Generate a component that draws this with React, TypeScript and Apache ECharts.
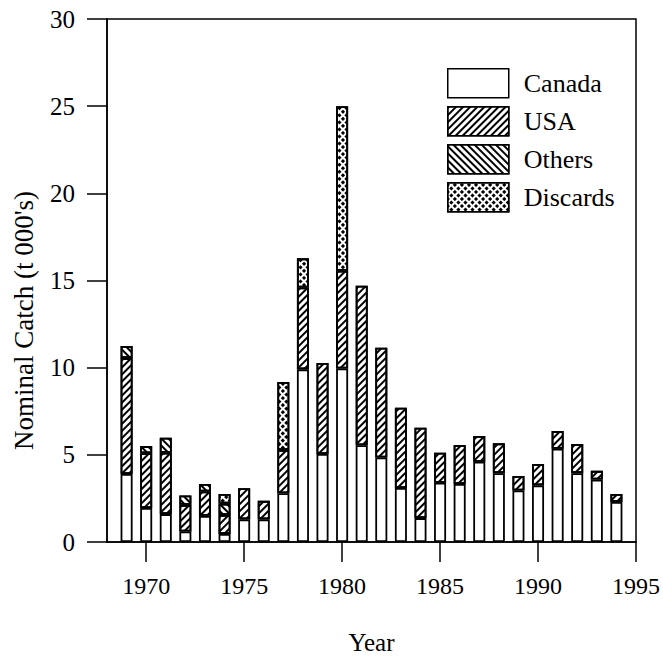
import React, { useEffect, useRef } from "react";
import * as echarts from "echarts";

// Years on the category axis (axis runs edge to edge from 1968 to 1995)
const axisYears: string[] = [];
for (let y = 1968; y <= 1995; y++) axisYears.push(String(y));

// Nominal catch by year, 1969–1994 (thousand tonnes)
const dataYears = [
  1969, 1970, 1971, 1972, 1973, 1974, 1975, 1976, 1977, 1978, 1979, 1980, 1981,
  1982, 1983, 1984, 1985, 1986, 1987, 1988, 1989, 1990, 1991, 1992, 1993, 1994,
];
const canada = [
  3.9, 1.95, 1.6, 0.6, 1.5, 0.46, 1.3, 1.3, 2.8, 9.9, 5.05, 9.95, 5.55, 4.85,
  3.1, 1.37, 3.4, 3.33, 4.6, 3.95, 2.95, 3.25, 5.35, 3.95, 3.58, 2.3,
];
const usa = [
  6.65, 3.14, 3.52, 1.53, 1.4, 1.09, 1.78, 1.06, 2.48, 4.7, 5.22, 5.61, 9.15,
  6.29, 4.6, 5.19, 1.72, 2.23, 1.48, 1.71, 0.84, 1.23, 1.01, 1.67, 0.5, 0.46,
];
const others = [
  0.7, 0.41, 0.86, 0.54, 0.43, 0.65, 0, 0, 0, 0, 0, 0, 0, 0, 0, 0, 0, 0, 0, 0,
  0, 0, 0, 0, 0, 0,
];
const discards = [
  0, 0, 0, 0, 0, 0.56, 0, 0, 3.9, 1.67, 0, 9.44, 0, 0, 0, 0, 0, 0, 0, 0, 0, 0,
  0, 0, 0, 0,
];

const yTicks = [0, 5, 10, 15, 20, 25, 30];
const xLabelYears = [1970, 1975, 1980, 1985, 1990, 1995];

const FONT = "'Liberation Serif', 'DejaVu Serif', serif";

function alignToAxis(values: number[]): (number | null)[] {
  return axisYears.map((y) => {
    const i = dataYears.indexOf(Number(y));
    if (i < 0) return null;
    return values[i] > 0 ? values[i] : null;
  });
}

const hatchUp = {
  symbol: "rect",
  symbolSize: 1,
  dashArrayX: [1, 0],
  dashArrayY: [1.3, 2.3],
  rotation: -Math.PI / 4,
  color: "#000",
  backgroundColor: "#fff",
};
const hatchDown = { ...hatchUp, rotation: Math.PI / 4 };
const checker = {
  symbol: "rect",
  symbolSize: 1,
  dashArrayX: [2.2, 1.1],
  dashArrayY: [2.2, 1.1],
  rotation: Math.PI / 4,
  color: "#000",
  backgroundColor: "#fff",
};

export default function App() {
  const ref = useRef<HTMLDivElement>(null);

  useEffect(() => {
    if (!ref.current) return;
    const chart = echarts.init(ref.current, null, { renderer: "svg" });

    const barBase = (name: string, values: number[], decal: any) => ({
      name,
      type: "bar",
      stack: "catch",
      barWidth: 12,
      data: alignToAxis(values),
      itemStyle: {
        color: "#fff",
        borderColor: "#000",
        borderWidth: 1.8,
        ...(decal ? { decal } : {}),
      },
    });

    chart.setOption({
      animation: false,
      backgroundColor: "#fff",
      textStyle: { fontFamily: FONT, color: "#000" },
      grid: {
        left: 107,
        right: 27,
        top: 19,
        bottom: 116,
        show: true,
        borderColor: "#000",
        borderWidth: 1.5,
        backgroundColor: "transparent",
      },
      legend: {
        orient: "vertical",
        left: 447,
        top: 68,
        itemWidth: 61,
        itemHeight: 29,
        itemGap: 7.5,
        icon: "rect",
        padding: 0,
        itemStyle: { borderColor: "#000", borderWidth: 1.5 },
        textStyle: {
          fontFamily: FONT,
          fontSize: 26,
          color: "#000",
          padding: [0, 0, 0, 10],
        },
        data: ["Canada", "USA", "Others", "Discards"],
      },
      xAxis: {
        type: "category",
        data: axisYears,
        boundaryGap: false,
        name: "Year",
        nameLocation: "middle",
        nameGap: 88,
        nameTextStyle: { fontFamily: FONT, fontSize: 25, color: "#000" },
        axisLine: { lineStyle: { color: "#000", width: 1.5 } },
        axisTick: {
          length: 20,
          lineStyle: { color: "#000", width: 1.5 },
          interval: (_i: number, v: string) => xLabelYears.includes(Number(v)),
        },
        axisLabel: {
          margin: 32,
          fontFamily: FONT,
          fontSize: 24,
          color: "#000",
          interval: (_i: number, v: string) => xLabelYears.includes(Number(v)),
        },
        splitLine: { show: false },
      },
      yAxis: {
        type: "value",
        min: yTicks[0],
        max: yTicks[yTicks.length - 1],
        interval: 5,
        name: "Nominal Catch (t 000's)",
        nameLocation: "middle",
        nameGap: 70,
        nameTextStyle: {
          fontFamily: FONT,
          fontSize: 27,
          color: "#000",
          padding: [0, 80, 0, 0],
        },
        axisLine: { show: true, lineStyle: { color: "#000", width: 1.5 } },
        axisTick: { show: true, length: 20, lineStyle: { color: "#000", width: 1.5 } },
        axisLabel: { margin: 32, fontFamily: FONT, fontSize: 25, color: "#000" },
        splitLine: { show: false },
      },
      series: [
        barBase("Canada", canada, null),
        barBase("USA", usa, hatchUp),
        barBase("Others", others, hatchDown),
        barBase("Discards", discards, checker),
      ],
    });

    return () => chart.dispose();
  }, []);

  return (
    <div
      ref={ref}
      style={{ position: "fixed", left: 0, top: 0, width: 663, height: 660 }}
    />
  );
}
